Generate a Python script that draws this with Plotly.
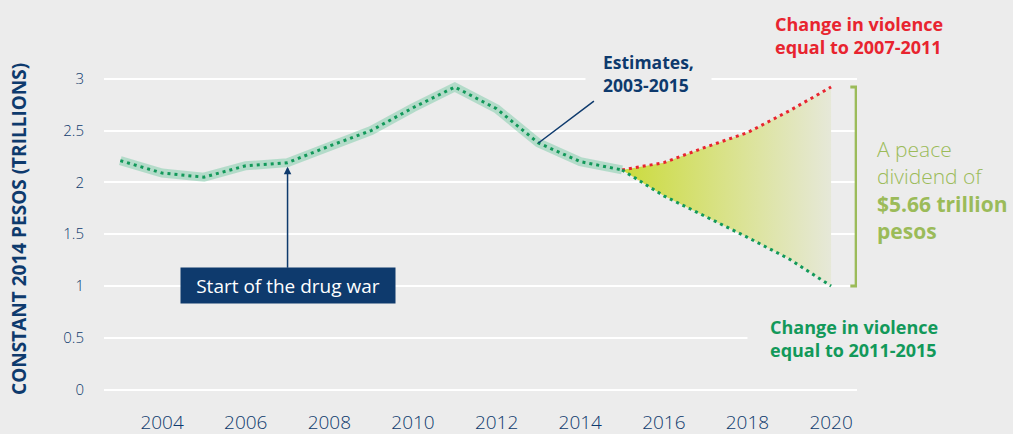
import plotly.graph_objects as go

# Estimates 2003-2015 (trillions of constant 2014 pesos)
years = [2003, 2004, 2005, 2006, 2007, 2008, 2009, 2010, 2011, 2012, 2013, 2014, 2015]
estimates = [2.21, 2.09, 2.05, 2.16, 2.19, 2.35, 2.50, 2.72, 2.92, 2.71, 2.38, 2.20, 2.12]

# Projections 2015-2020
proj_years = [2015, 2016, 2017, 2018, 2019, 2020]
proj_high = [2.12, 2.19, 2.34, 2.48, 2.69, 2.92]   # violence change equal to 2007-2011
proj_low = [2.12, 1.87, 1.67, 1.47, 1.26, 1.00]    # violence change equal to 2011-2015

x_ticks = [2004, 2006, 2008, 2010, 2012, 2014, 2016, 2018, 2020]
y_ticks = [0, 0.5, 1, 1.5, 2, 2.5, 3]

NAVY = '#0e3a6d'
BG = '#ececec'
RED = '#e8242f'
GREEN = '#12995a'
OLIVE = '#9bbb59'
FONT = 'Open Sans'

fig = go.Figure()

# gradient area between the two projections
fig.add_trace(go.Scatter(
    x=proj_years, y=proj_low, mode='lines',
    line=dict(width=0), showlegend=False, hoverinfo='skip'
))
fig.add_trace(go.Scatter(
    x=proj_years, y=proj_high, mode='lines', fill='tonexty',
    fillgradient=dict(type='horizontal',
                      colorscale=[[0, '#cbdb3c'], [0.5, '#d9e28a'], [1, '#e6e8d8']]),
    line=dict(width=0), showlegend=False, hoverinfo='skip'
))

# estimates: light band + dotted line
fig.add_trace(go.Scatter(
    x=years, y=estimates, mode='lines',
    line=dict(color='rgba(110,200,160,0.45)', width=9),
    showlegend=False, hoverinfo='skip'
))
fig.add_trace(go.Scatter(
    x=years, y=estimates, mode='lines',
    line=dict(color=GREEN, width=3, dash='3px,4px'),
    showlegend=False
))

# projections
fig.add_trace(go.Scatter(
    x=proj_years, y=proj_high, mode='lines',
    line=dict(color=RED, width=3, dash='3px,4px'), showlegend=False
))
fig.add_trace(go.Scatter(
    x=proj_years, y=proj_low, mode='lines',
    line=dict(color=GREEN, width=3, dash='3px,4px'), showlegend=False
))

# bracket for the peace dividend
bx = proj_years[-1] + 0.6
cap = 0.14
fig.add_shape(type='line', x0=bx, x1=bx, y0=proj_low[-1], y1=proj_high[-1],
              line=dict(color=OLIVE, width=3))
for yv in (proj_low[-1], proj_high[-1]):
    fig.add_shape(type='line', x0=bx - cap, x1=bx + cap, y0=yv, y1=yv,
                  line=dict(color=OLIVE, width=3))

annotations = [
    # estimates label (background hides the gridline)
    dict(x=2014.12, y=3.05, xref='x', yref='y', xanchor='left', yanchor='middle',
         text='<b>Estimates,<br>2003-2015</b>', showarrow=False, align='left',
         font=dict(family=FONT, size=17.5, color=NAVY), bgcolor=BG, borderpad=17),
    dict(x=years[10], y=estimates[10], xref='x', yref='y', text='',
         showarrow=True, arrowhead=0, arrowwidth=1.5, arrowcolor=NAVY,
         ax=57, ay=-43),
    # start of drug war box
    dict(x=years[4], y=estimates[4], xref='x', yref='y',
         text='Start of the drug war', showarrow=True, arrowhead=2,
         arrowsize=1, arrowwidth=1.5, arrowcolor=NAVY, standoff=4,
         ax=0, ay=123, bgcolor=NAVY, borderpad=5, width=204, height=25,
         font=dict(family=FONT, size=19, color='white', weight=500)),
    # projection labels
    dict(x=2018.6, y=1.066, xref='x', yref='paper', xanchor='left', yanchor='middle',
         text='<b>Change in violence<br>equal to 2007-2011</b>', showarrow=False,
         align='left', font=dict(family=FONT, size=18, color=RED)),
    dict(x=2018.0, y=0.49, xref='x', yref='y', xanchor='left', yanchor='middle',
         text='<b>Change in violence<br>equal to 2011-2015</b>', showarrow=False,
         align='left', font=dict(family=FONT, size=18, color=GREEN),
         bgcolor=BG, borderpad=22),
    dict(x=1.024, y=1.93, xref='paper', yref='y', xanchor='left', yanchor='middle',
         text='A peace<br>dividend of<br><b>$5.66 trillion</b><br><b>pesos</b>',
         showarrow=False, align='left',
         font=dict(family=FONT, size=21, color=OLIVE, weight=300)),
    # y axis title
    dict(x=-0.113, y=0.5, xref='paper', yref='paper', xanchor='center',
         yanchor='middle', text='<b>CONSTANT 2014 PESOS (TRILLIONS)</b>',
         textangle=-90, showarrow=False,
         font=dict(family=FONT, size=19, color=NAVY)),
]

fig.update_layout(
    width=1013, height=434,
    margin=dict(l=104, r=156, t=58, b=34),
    paper_bgcolor=BG, plot_bgcolor=BG,
    font=dict(family=FONT, color=NAVY),
    annotations=annotations,
    showlegend=False,
)
fig.update_xaxes(
    range=[2002.61, 2020.62], tickvals=x_ticks, showgrid=False, zeroline=False,
    showline=False, ticks='', automargin=False,
    tickfont=dict(family=FONT, size=19, color=NAVY, weight=300),
    ticklabelstandoff=9
)
fig.update_yaxes(
    range=[-0.1, 3.2], tickvals=y_ticks, ticktext=[str(v) for v in y_ticks],
    showgrid=True, gridcolor='white', gridwidth=2, zeroline=False,
    showline=False, ticks='', automargin=False,
    tickfont=dict(family=FONT, size=15, color=NAVY, weight=300),
    ticklabelstandoff=19
)

fig.write_html("out.html", config={'displayModeBar': False},
               post_script="document.body.style.margin='0';")
